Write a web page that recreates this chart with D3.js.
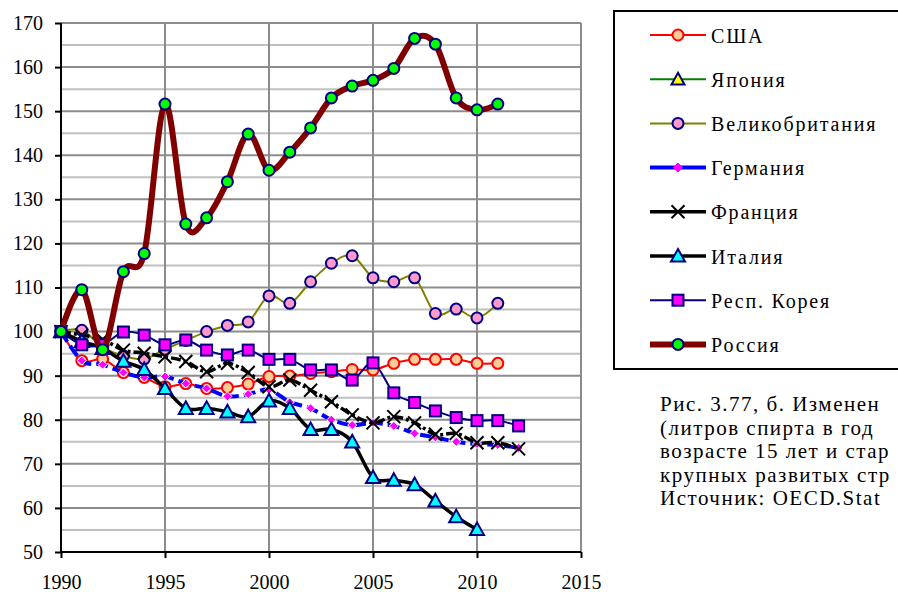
<!DOCTYPE html>
<html><head><meta charset="utf-8">
<script src="https://cdn.jsdelivr.net/npm/d3@7"></script>
<style>
html,body{margin:0;padding:0;background:#fff;overflow:hidden}
svg{display:block}
svg text{font-family:"Liberation Serif","Tinos","Times New Roman","DejaVu Serif","Noto Serif",serif;fill:#000}
</style></head>
<body>
<svg id="chart" width="898" height="592"></svg>
<script>
// ---- data ----
const years = d3.range(1990, 2013);
const xTicks = [1990, 1995, 2000, 2005, 2010, 2015];
const yTicks = [50, 60, 70, 80, 90, 100, 110, 120, 130, 140, 150, 160, 170];

const usa     = [100, 93.4, 93.8, 90.7, 89.6, 87.5, 88.2, 87.1, 87.3, 88.1, 89.8, 89.9, 90.5, 90.9, 91.4, 91.3, 92.8, 93.7, 93.7, 93.7, 92.8, 92.8];
const japan   = [];
const uk      = [100, 100.3, 96.5, 94.5, 93.8, 96, 98, 100, 101.4, 102.2, 108.1, 106.4, 111.3, 115.5, 117.2, 112.2, 111.3, 112.2, 104.1, 105.1, 103.1, 106.4];
const germany = [100, 93.4, 92.5, 90.7, 89.6, 89.8, 88.2, 87.1, 85.3, 85.8, 86.8, 84.0, 82.6, 80.0, 78.8, 79.3, 78.6, 76.9, 76.0, 75.0, 74.5, 74.3, 73.6];
const france  = [100, 99.2, 98.2, 95.8, 95.1, 94.3, 93.2, 90.9, 92.8, 90.7, 87.5, 89.0, 86.7, 84.1, 81.1, 79.3, 80.7, 79.3, 76.7, 76.9, 74.8, 74.8, 73.4];
const italy   = [100, 97.8, 96.2, 93.3, 91.4, 87.1, 82.6, 82.6, 81.8, 80.7, 84.3, 82.6, 77.8, 77.8, 75.0, 66.9, 66.3, 65.3, 61.6, 58.0, 55.1];
const korea   = [100, 97.0, 97.0, 99.9, 99.2, 97.0, 98.1, 95.8, 94.7, 95.8, 93.7, 93.7, 91.3, 91.3, 89.0, 92.9, 86.1, 83.9, 82.0, 80.5, 79.8, 79.8, 78.6];
const russia  = [100, 109.5, 95.9, 113.6, 117.7, 151.6, 124.4, 125.8, 134.0, 144.8, 136.6, 140.7, 146.2, 153.0, 155.7, 157.0, 159.7, 166.5, 165.2, 153.0, 150.3, 151.6];

const seriesNames = ["США", "Япония", "Великобритания", "Германия", "Франция", "Италия", "Респ. Корея", "Россия"];
const seriesValues = [usa, japan, uk, germany, france, italy, korea, russia];

const captionLines = [
  "Рис. 3.77, б. Изменен",
  "(литров спирта в год",
  "возрасте 15 лет и стар",
  "крупных развитых стр",
  "Источник: OECD.Stat"
];

// ---- styles ----
const styles = [
  {line:"#FF0000", w:2,   dash:null,      marker:"circle",   fill:"#FFCC99", stroke:"#FF0000", size:5.5},
  {line:"#008000", w:2,   dash:null,      marker:"triangle", fill:"#FFFF00", stroke:"#000080", size:6.5},
  {line:"#808000", w:2,   dash:null,      marker:"circle",   fill:"#FF99CC", stroke:"#000080", size:5.5},
  {line:"#0000FF", w:4,   dash:"12,5",    marker:"diamond",  fill:"#FF00FF", stroke:"#FFFFFF", size:4.5},
  {line:"#000000", w:3.5, dash:"10,3,3,3",marker:"x",        fill:"none",    stroke:"#000000", size:6.5},
  {line:"#000000", w:3.5, dash:null,      marker:"triangle", fill:"#00FFFF", stroke:"#000080", size:7},
  {line:"#000080", w:2,   dash:null,      marker:"square",   fill:"#FF00FF", stroke:"#000080", size:5.5},
  {line:"#800000", w:6,   dash:null,      marker:"circle",   fill:"#00FF00", stroke:"#000080", size:5.5}
];

const FONT = "Liberation Serif, Tinos, Times New Roman, DejaVu Serif, serif";
const svg = d3.select("#chart");
const x = d3.scaleLinear().domain([1990, 2015]).range([61, 581]);
const y = d3.scaleLinear().domain([50, 170]).range([552, 23]);

// grid
const grid = svg.append("g");
d3.range(55, 170, 10).forEach(v => {
  grid.append("line").attr("x1", x(1990)).attr("x2", x(2015)).attr("y1", y(v)).attr("y2", y(v))
    .attr("stroke", "#C0C0C0").attr("stroke-width", 2);
});
yTicks.forEach(v => {
  grid.append("line").attr("x1", x(1990)).attr("x2", x(2015)).attr("y1", y(v)).attr("y2", y(v))
    .attr("stroke", "#8C8C8C").attr("stroke-width", 2);
});
xTicks.forEach(t => {
  grid.append("line").attr("x1", x(t)).attr("x2", x(t)).attr("y1", y(50)).attr("y2", y(170))
    .attr("stroke", "#8C8C8C").attr("stroke-width", 2);
});

// axes
const yAxis = d3.axisLeft(y).tickValues(yTicks).tickSize(6).tickPadding(12).tickFormat(d3.format("d"));
const xAxis = d3.axisBottom(x).tickValues(xTicks).tickSize(6).tickPadding(17).tickFormat(d3.format("d"));
const gy = svg.append("g").attr("transform", `translate(${x(1990)},0)`).call(yAxis);
const gx = svg.append("g").attr("transform", `translate(0,${y(50)})`).call(xAxis);
[gx, gy].forEach(g => {
  g.attr("font-family", FONT).attr("font-size", 20);
  g.select(".domain").attr("stroke", "#000").attr("stroke-width", 2);
  g.selectAll(".tick line").attr("stroke", "#000").attr("stroke-width", 2);
  g.selectAll(".tick text").attr("font-size", 20).attr("font-family", FONT).attr("fill", "#000");
});
gy.select(".domain").attr("d", `M0,${y(170)}V${y(50)}`);
gx.select(".domain").attr("d", `M${x(1990)},0H${x(2015)}`);

// marker drawing
function drawMarker(g, type, cx, cy, st) {
  const s = st.size;
  if (type === "circle") {
    g.append("circle").attr("cx", cx).attr("cy", cy).attr("r", s)
      .attr("fill", st.fill).attr("stroke", st.stroke).attr("stroke-width", 2);
  } else if (type === "square") {
    g.append("rect").attr("x", cx - s).attr("y", cy - s).attr("width", 2 * s).attr("height", 2 * s)
      .attr("fill", st.fill).attr("stroke", st.stroke).attr("stroke-width", 2);
  } else if (type === "triangle") {
    g.append("path").attr("d", `M${cx},${cy - s}L${cx + s},${cy + s * 0.8}L${cx - s},${cy + s * 0.8}Z`)
      .attr("fill", st.fill).attr("stroke", st.stroke).attr("stroke-width", 2);
  } else if (type === "diamond") {
    g.append("path").attr("d", `M${cx},${cy - s}L${cx + s},${cy}L${cx},${cy + s}L${cx - s},${cy}Z`)
      .attr("fill", st.fill).attr("stroke", st.stroke).attr("stroke-width", 1);
  } else if (type === "x") {
    g.append("path").attr("d", `M${cx - s},${cy - s}L${cx + s},${cy + s}M${cx + s},${cy - s}L${cx - s},${cy + s}`)
      .attr("fill", "none").attr("stroke", st.stroke).attr("stroke-width", 2);
  }
}

// series
const lineGen = d3.line().x(d => x(d[0])).y(d => y(d[1])).curve(d3.curveCardinal.tension(0));
seriesValues.forEach((vals, i) => {
  const st = styles[i];
  const pts = vals.map((v, j) => [years[j], v]);
  const g = svg.append("g");
  if (pts.length) {
    g.append("path").attr("d", lineGen(pts)).attr("fill", "none")
      .attr("stroke", st.line).attr("stroke-width", st.w)
      .attr("stroke-dasharray", st.dash).attr("stroke-linejoin", "round");
    pts.forEach(p => drawMarker(g, st.marker, x(p[0]), y(p[1]), st));
  }
});

// legend
const lg = svg.append("g").attr("font-family", FONT);
lg.append("rect").attr("x", 614).attr("y", 11).attr("width", 300).attr("height", 358)
  .attr("fill", "#fff").attr("stroke", "#000").attr("stroke-width", 2);
seriesNames.forEach((name, i) => {
  const st = styles[i];
  const cy = 35 + i * 44.2;
  lg.append("line").attr("x1", 650).attr("x2", 706).attr("y1", cy).attr("y2", cy)
    .attr("stroke", st.line).attr("stroke-width", st.w);
  drawMarker(lg, st.marker, 678, cy, Object.assign({}, st, {stroke: st.marker === "diamond" ? st.fill : st.stroke}));
  lg.append("text").attr("x", 711).attr("y", cy + 7.5).attr("font-size", 20)
    .attr("letter-spacing", 1.8).attr("font-family", FONT).text(name);
});

// caption
const cap = svg.append("g").attr("font-family", FONT);
captionLines.forEach((t, i) => {
  cap.append("text").attr("x", 660).attr("y", 411 + i * 23.5).attr("font-size", 21)
    .attr("letter-spacing", 1.5).attr("font-family", FONT).text(t);
});
</script>
</body></html>
